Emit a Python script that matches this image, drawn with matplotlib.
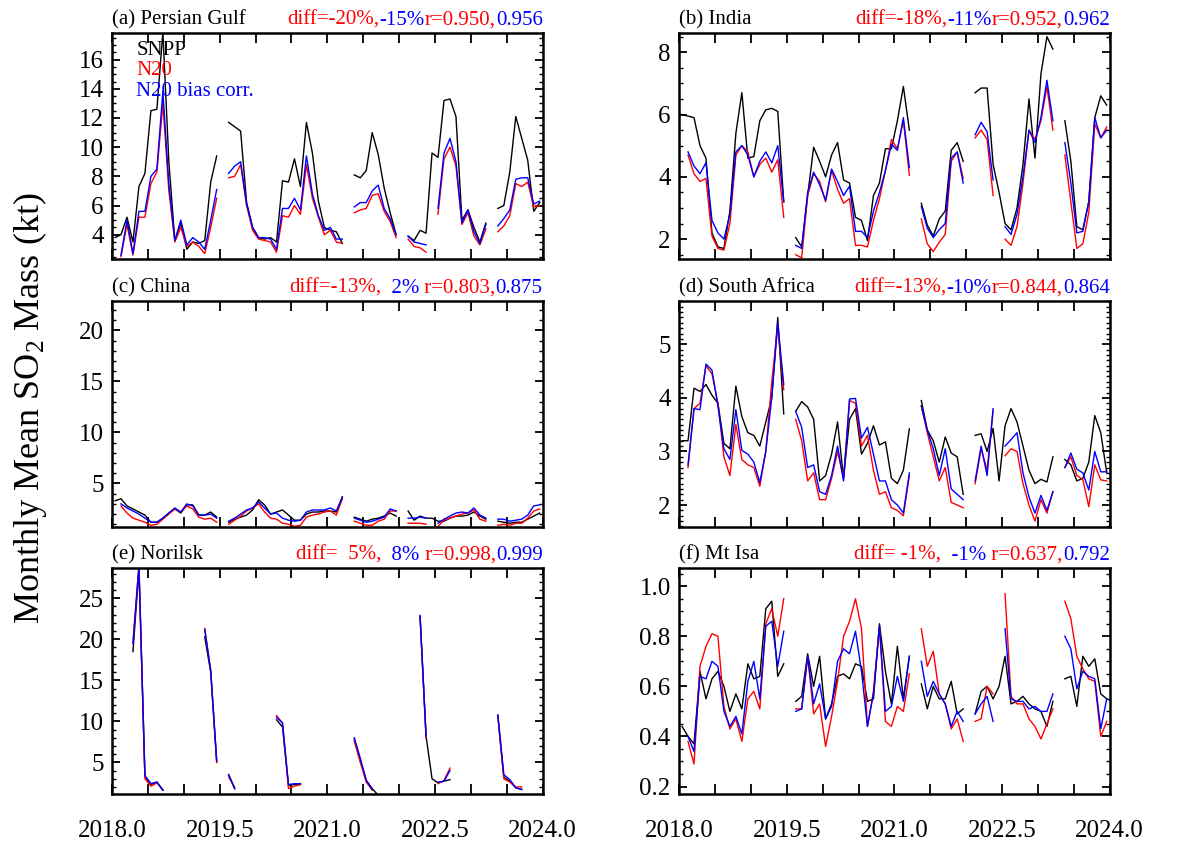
import matplotlib
matplotlib.use('Agg')
import matplotlib.pyplot as plt
import numpy as np
from matplotlib.ticker import MultipleLocator, FixedLocator, NullFormatter
from matplotlib.font_manager import FontProperties
from matplotlib.transforms import offset_copy

nan = np.nan

# monthly means Jan 2018 .. Dec 2023 (one row per year)
years = ['2018.0', '2019.5', '2021.0', '2022.5', '2024.0']
year_ticks = [2018.0, 2019.5, 2021.0, 2022.5, 2024.0]

# (a) Persian Gulf
gulf_snpp = [3.8, 4.0, 5.2, 3.5, 7.3, 8.2, 12.5, 12.6, 17.9, 9.0, 3.6, 4.8,
             3.0, 3.5, 3.4, 3.6, 7.6, 9.4, nan, 11.7, 11.4, 11.1, 6.2, 4.5,
             3.8, 3.7, 3.8, 3.5, 7.7, 7.6, 9.2, 7.3, 11.7, 9.6, 6.3, 4.5,
             4.3, 4.2, 3.4, nan, 8.1, 7.9, 8.4, 11.0, 9.5, 7.2, 5.5, 4.0,
             nan, 3.9, 3.6, 4.3, 4.1, 9.6, 9.3, 13.2, 13.3, 12.1, 5.0, 5.7,
             4.5, 3.5, 4.8, nan, 5.8, 6.0, 8.3, 12.1, 10.6, 9.1, 5.6, 6.2]
gulf_n20 = [nan, 2.5, 4.7, 2.6, 5.2, 5.2, 7.5, 8.3, 13.0, 7.0, 3.5, 4.5,
            3.2, 3.5, 3.2, 2.7, 4.5, 6.5, nan, 7.9, 8.0, 8.8, 6.0, 4.3,
            3.7, 3.6, 3.5, 2.8, 5.3, 5.2, 6.0, 5.4, 8.8, 6.5, 5.2, 4.0,
            4.3, 3.5, 3.4, nan, 5.5, 5.7, 5.8, 6.7, 6.8, 5.6, 4.9, 3.8,
            nan, 3.7, 3.2, 3.1, 2.8, nan, 5.4, 9.2, 10.0, 8.7, 4.7, 5.5,
            3.9, 3.3, 4.4, nan, 4.2, 4.6, 5.3, 7.5, 7.3, 7.6, 5.9, 6.0]
gulf_corr = [nan, 2.6, 5.0, 2.7, 5.6, 5.6, 8.0, 8.5, 13.8, 7.5, 3.6, 5.0,
             3.3, 3.8, 3.5, 3.0, 5.0, 7.1, nan, 8.2, 8.7, 9.0, 6.1, 4.5,
             3.8, 3.8, 3.7, 3.0, 5.8, 5.8, 6.5, 5.7, 9.4, 6.8, 5.3, 4.3,
             4.5, 3.7, 3.7, nan, 5.9, 6.2, 6.2, 7.0, 7.4, 5.8, 5.1, 4.0,
             nan, 3.9, 3.5, 3.4, 3.3, nan, 5.8, 9.6, 10.6, 9.0, 4.8, 5.7,
             4.2, 3.4, 4.7, nan, 4.6, 5.1, 5.7, 7.8, 7.9, 7.9, 6.1, 6.3]

# (b) India
india_snpp = [6.0, 5.95, 5.9, 5.0, 4.6, 2.2, 1.75, 1.7, 2.9, 5.4, 6.7, 4.6,
              4.65, 5.8, 6.15, 6.2, 6.1, 3.2, nan, 2.05, 1.75, 3.4, 4.95, 4.5,
              4.0, 4.7, 5.1, 3.9, 3.8, 2.7, 2.6, 1.95, 3.4, 3.8, 4.9, 4.9,
              5.8, 6.9, 5.5, nan, 3.15, 2.45, 2.1, 2.65, 2.9, 4.85, 5.1, 4.5,
              nan, 6.7, 6.85, 6.85, 4.4, 3.5, 2.5, 2.3, 3.0, 4.4, 6.5, 4.6,
              7.3, 8.5, 8.1, nan, 5.8, 4.5, 2.4, 2.3, 3.2, 5.9, 6.6, 6.3]
india_n20 = [nan, 4.7, 4.1, 3.85, 3.95, 2.1, 1.7, 1.65, 2.5, 4.7, 5.0, 4.8,
             4.0, 4.4, 4.6, 4.15, 4.55, 2.7, nan, 1.5, 1.4, 3.4, 4.1, 3.85,
             3.2, 4.2, 3.6, 3.15, 3.3, 1.8, 1.8, 1.75, 2.6, 3.3, 4.2, 5.2,
             4.9, 5.8, 4.05, nan, 2.65, 1.85, 1.6, 1.9, 2.15, 4.5, 4.8, 3.95,
             nan, 5.25, 5.5, 5.2, 3.4, nan, 2.0, 1.8, 2.4, 3.8, 5.5, 5.2,
             5.8, 6.9, 5.5, nan, 4.7, 3.2, 1.7, 1.85, 2.85, 5.7, 5.25, 5.6]
india_corr = [nan, 4.8, 4.35, 4.1, 4.45, 2.6, 2.2, 2.0, 2.8, 4.8, 5.0, 4.7,
              4.0, 4.5, 4.8, 4.45, 5.0, 3.2, nan, 1.8, 1.7, 3.5, 4.15, 3.75,
              3.25, 4.25, 3.85, 3.4, 3.7, 2.25, 2.25, 2.05, 2.9, 3.5, 4.2, 5.05,
              4.85, 5.9, 4.3, nan, 3.05, 2.35, 2.05, 2.3, 2.5, 4.6, 4.8, 3.8,
              nan, 5.35, 5.75, 5.45, 3.9, nan, 2.4, 2.15, 2.8, 4.0, 5.5, 5.1,
              5.9, 7.1, 5.8, nan, 5.1, 3.8, 2.2, 2.25, 3.2, 5.9, 5.25, 5.5]

# (c) China
china_snpp = [3.3, 3.5, 2.8, 2.5, 2.2, 1.9, 1.2, 1.2, 1.6, 2.1, 2.5, 2.1,
              2.9, 2.9, 1.9, 1.9, 2.2, 1.7, nan, 1.2, 1.5, 1.7, 1.9, 2.4,
              3.4, 2.9, 2.0, 2.2, 2.4, 1.9, 1.4, 1.4, 2.0, 2.2, 2.2, 2.3,
              2.3, 2.2, 3.7, nan, 1.7, 1.5, 1.3, 1.5, 1.6, 1.8, 2.1, 1.8,
              nan, 2.3, 1.4, 1.8, 1.6, 1.6, 1.3, 1.3, 1.6, 1.8, 1.8, 1.9,
              2.2, 1.8, 1.5, nan, 1.3, 1.2, 1.1, 1.2, 1.2, 1.5, 1.8, 2.1]
china_n20 = [nan, 2.8, 2.1, 1.6, 1.4, 1.2, 0.9, 1.0, 1.5, 2.0, 2.5, 2.2,
             2.8, 2.5, 1.7, 1.5, 1.6, 1.2, nan, 1.0, 1.4, 1.8, 2.3, 2.6,
             3.0, 2.2, 1.6, 1.5, 1.1, 1.0, 0.8, 0.9, 1.7, 1.9, 2.0, 2.2,
             2.3, 1.9, 3.5, nan, 1.3, 1.1, 0.9, 0.9, 1.3, 1.5, 2.3, 2.3,
             nan, 1.1, 1.1, 1.1, 1.0, nan, 0.8, 1.4, 1.6, 1.8, 2.0, 2.1,
             2.4, 1.5, 1.3, nan, 0.9, 1.0, 0.9, 1.1, 1.1, 1.6, 2.3, 2.5]
china_corr = [nan, 3.0, 2.6, 2.3, 2.0, 1.6, 1.2, 1.2, 1.6, 2.1, 2.6, 2.2,
              3.0, 2.8, 1.9, 1.9, 2.0, 1.6, nan, 1.3, 1.6, 2.0, 2.4, 2.6,
              3.2, 2.6, 2.0, 2.1, 1.6, 1.4, 1.3, 1.4, 2.2, 2.4, 2.4, 2.4,
              2.6, 2.3, 3.6, nan, 1.6, 1.4, 1.2, 1.3, 1.5, 1.7, 2.5, 2.3,
              nan, 1.6, 1.6, 1.7, 1.6, nan, 1.1, 1.5, 1.8, 2.1, 2.2, 2.1,
              2.6, 1.9, 1.6, nan, 1.5, 1.5, 1.3, 1.4, 1.5, 1.9, 2.8, 2.9]

# (d) South Africa
safrica_snpp = [3.2, 3.2, 4.18, 4.12, 4.25, 4.05, 3.9, 3.15, 3.05, 4.22, 3.65, 3.35,
                3.3, 3.1, 3.55, 4.0, 5.5, 3.7, nan, 3.75, 3.93, 3.83, 3.6, 2.45,
                2.55, 2.95, 3.55, 2.5, 3.6, 3.8, 2.95, 3.15, 3.48, 3.12, 3.18, 2.5,
                2.4, 2.65, 3.42, nan, 3.95, 3.4, 3.2, 2.8, 3.27, 2.97, 2.9, 2.2,
                nan, 3.3, 3.33, 3.0, 3.43, 2.45, 3.48, 3.8, 3.55, 3.1, 2.65, 2.4,
                2.48, 2.43, 2.9, nan, 2.85, 2.75, 2.45, 2.5, 2.8, 3.67, 3.35, 2.6]
safrica_n20 = [nan, 2.7, 3.8, 3.9, 4.6, 4.45, 3.9, 2.9, 2.55, 3.5, 2.85, 2.75,
               2.7, 2.35, 3.0, 4.3, 5.35, 4.15, nan, 3.6, 3.2, 2.45, 2.6, 2.1,
               2.1, 2.5, 3.0, 2.5, 3.95, 3.9, 3.1, 3.3, 2.65, 2.2, 2.25, 1.95,
               1.9, 1.8, 2.55, nan, 3.85, 3.35, 2.9, 2.45, 2.7, 2.05, 2.0, 1.95,
               nan, 2.4, 3.05, 2.65, 3.75, nan, 2.92, 3.05, 3.0, 2.4, 2.0, 1.7,
               2.1, 1.85, 2.25, nan, 2.7, 2.9, 2.55, 2.48, 1.97, 2.75, 2.47, 2.45]
safrica_corr = [nan, 2.75, 3.8, 3.78, 4.63, 4.52, 3.85, 3.05, 2.85, 3.78, 3.02, 2.95,
                2.8, 2.42, 3.0, 4.0, 5.4, 4.25, nan, 3.75, 3.45, 2.7, 2.75, 2.25,
                2.2, 2.55, 3.1, 2.45, 3.98, 3.99, 3.25, 3.45, 2.95, 2.45, 2.45, 2.1,
                2.0, 1.85, 2.6, nan, 3.85, 3.4, 3.05, 2.55, 3.05, 2.3, 2.2, 2.1,
                nan, 2.45, 3.1, 2.55, 3.8, nan, 3.1, 3.22, 3.35, 2.6, 2.15, 1.85,
                2.18, 1.9, 2.25, nan, 2.7, 2.97, 2.67, 2.6, 2.28, 3.0, 2.62, 2.62]

# (e) Norilsk (no winter data)
norilsk_snpp = [nan, nan, nan, 18.5, 28.5, 3.3, 2.3, 2.6, 1.6, nan, nan, nan,
                nan, nan, nan, 20.3, 16.0, 5.0, nan, 3.5, 1.8, nan, nan, nan,
                nan, nan, nan, 10.2, 9.3, 2.2, 2.3, 2.3, nan, nan, nan, nan,
                nan, nan, nan, nan, 7.8, 5.3, 2.8, 1.8, 1.0, nan, nan, nan,
                nan, nan, nan, 22.8, 8.2, 3.0, 2.5, 2.7, 2.9, nan, nan, nan,
                nan, nan, nan, nan, 10.7, 3.2, 2.7, 1.9, 1.7, nan, nan, nan]
norilsk_n20 = [nan, nan, nan, 19.5, 29.0, 3.0, 2.1, 2.5, 1.7, nan, nan, nan,
               nan, nan, nan, 21.3, 16.2, 5.0, nan, 3.2, 2.0, nan, nan, nan,
               nan, nan, nan, 10.7, 9.8, 1.8, 2.1, 2.3, nan, nan, nan, nan,
               nan, nan, nan, nan, 7.6, 5.0, 2.6, 1.6, nan, nan, nan, nan,
               nan, nan, nan, 22.8, 8.0, nan, 2.4, 2.8, 4.3, nan, nan, nan,
               nan, nan, nan, nan, 10.6, 3.0, 2.6, 2.0, 2.0, nan, nan, nan]
norilsk_corr = [nan, nan, nan, 19.5, 29.0, 3.4, 2.4, 2.6, 1.6, nan, nan, nan,
                nan, nan, nan, 21.2, 16.2, 5.2, nan, 3.5, 1.8, nan, nan, nan,
                nan, nan, nan, 10.5, 9.8, 2.3, 2.4, 2.4, nan, nan, nan, nan,
                nan, nan, nan, nan, 8.0, 5.5, 2.8, 1.7, nan, nan, nan, nan,
                nan, nan, nan, 22.9, 8.2, nan, 2.6, 2.7, 4.0, nan, nan, nan,
                nan, nan, nan, nan, 10.8, 3.5, 2.9, 1.9, 1.7, nan, nan, nan]

# (f) Mt Isa
mtisa_snpp = [0.44, 0.40, 0.37, 0.66, 0.55, 0.63, 0.66, 0.60, 0.50, 0.57, 0.51, 0.69,
              0.63, 0.64, 0.91, 0.94, 0.64, 0.69, nan, 0.54, 0.56, 0.73, 0.60, 0.72,
              0.47, 0.53, 0.64, 0.65, 0.63, 0.69, 0.68, 0.54, 0.55, 0.85, 0.66, 0.53,
              0.76, 0.55, 0.72, nan, 0.61, 0.51, 0.60, 0.55, 0.55, 0.62, 0.49, 0.51,
              nan, 0.49, 0.58, 0.60, 0.55, 0.60, 0.72, 0.53, 0.54, 0.56, 0.53, 0.51,
              0.50, 0.44, 0.54, nan, 0.63, 0.64, 0.52, 0.72, 0.68, 0.71, 0.57, 0.55]
mtisa_n20 = [nan, 0.38, 0.29, 0.68, 0.76, 0.81, 0.80, 0.52, 0.43, 0.47, 0.38, 0.55,
             0.58, 0.51, 0.85, 0.91, 0.80, 0.95, nan, 0.51, 0.51, 0.72, 0.49, 0.53,
             0.36, 0.48, 0.62, 0.80, 0.86, 0.95, 0.83, 0.44, 0.58, 0.84, 0.46, 0.44,
             0.52, 0.50, 0.65, nan, 0.83, 0.68, 0.74, 0.57, 0.53, 0.43, 0.47, 0.38,
             nan, 0.46, 0.47, 0.60, 0.57, nan, 0.97, 0.56, 0.53, 0.53, 0.47, 0.44,
             0.39, 0.45, 0.51, nan, 0.94, 0.87, 0.72, 0.67, 0.63, 0.62, 0.40, 0.46]
mtisa_corr = [nan, 0.40, 0.34, 0.64, 0.63, 0.70, 0.68, 0.50, 0.44, 0.48, 0.41, 0.62,
              0.70, 0.55, 0.84, 0.86, 0.68, 0.82, nan, 0.50, 0.51, 0.72, 0.53, 0.61,
              0.47, 0.52, 0.70, 0.75, 0.73, 0.82, 0.66, 0.44, 0.57, 0.84, 0.50, 0.52,
              0.64, 0.54, 0.72, nan, 0.70, 0.56, 0.62, 0.57, 0.53, 0.44, 0.50, 0.46,
              nan, 0.49, 0.53, 0.56, 0.46, nan, 0.83, 0.55, 0.54, 0.54, 0.51, 0.52,
              0.50, 0.50, 0.57, nan, 0.80, 0.75, 0.59, 0.66, 0.64, 0.63, 0.43, 0.55]

# statistics text: diff N20, diff corrected, r N20, r corrected
gulf_stats = ['diff=-20%,', '-15%', 'r=0.950,', '0.956']
india_stats = ['diff=-18%,', '-11%', 'r=0.952,', '0.962']
china_stats = ['diff=-13%,', '  2%', ' r=0.803,', '0.875']
safrica_stats = ['diff=-13%,', '-10%', 'r=0.844,', '0.864']
norilsk_stats = ['diff=  5%,', '  8%', ' r=0.998,', '0.999']
mtisa_stats = ['diff= -1%,', '  -1%', ' r=0.637,', '0.792']

plt.rcParams['font.family'] = 'Liberation Serif'
plt.rcParams['mathtext.fontset'] = 'custom'
plt.rcParams['mathtext.rm'] = 'Liberation Serif'
plt.rcParams['mathtext.it'] = 'Liberation Serif:italic'

time = 2018 + (np.arange(72) + 0.5) / 12.0

fig = plt.figure(figsize=(11.93, 8.55), dpi=100)

left_x, right_x = 0.0939, 0.5692
rows = [0.697, 0.3836, 0.0713]
w, h = 0.3610, 0.2645

panels = [
    ('(a) Persian Gulf', gulf_snpp, gulf_n20, gulf_corr, gulf_stats, (2.33, 17.83), 2, 0.5),
    ('(b) India', india_snpp, india_n20, india_corr, india_stats, (1.36, 8.62), 2, 0.5),
    ('(c) China', china_snpp, china_n20, china_corr, china_stats, (0.73, 22.9), 5, 1),
    ('(d) South Africa', safrica_snpp, safrica_n20, safrica_corr, safrica_stats, (1.59, 5.81), 1, 0.1),
    ('(e) Norilsk', norilsk_snpp, norilsk_n20, norilsk_corr, norilsk_stats, (1.14, 28.7), 5, 1),
    ('(f) Mt Isa', mtisa_snpp, mtisa_n20, mtisa_corr, mtisa_stats, (0.17, 1.073), 0.2, 0.05),
]

renderer = fig.canvas.get_renderer()
fp = FontProperties(family='Liberation Serif', size=15)
stat_colors = ['red', 'blue', 'red', 'blue']

for k, (title, snpp, n20, corr, stats, ylim, major, minor) in enumerate(panels):
    row, col = k // 2, k % 2
    ax = fig.add_axes([left_x if col == 0 else right_x, rows[row], w, h])
    ax.plot(time, snpp, color='black', lw=1.0)
    ax.plot(time, n20, color='red', lw=1.0)
    ax.plot(time, corr, color='blue', lw=1.0)
    ax.set_xlim(2018.0, 2024.0)
    ax.set_ylim(*ylim)

    ax.xaxis.set_major_locator(FixedLocator(year_ticks))
    ax.xaxis.set_minor_locator(MultipleLocator(0.5))
    if row == 2:
        ax.set_xticklabels(years)
    else:
        ax.xaxis.set_major_formatter(NullFormatter())
    ax.yaxis.set_major_locator(MultipleLocator(major))
    ax.yaxis.set_minor_locator(MultipleLocator(minor))
    if major < 1:
        ax.yaxis.set_major_formatter(plt.FormatStrFormatter('%.1f'))

    ax.tick_params(which='both', direction='in', top=True, right=True)
    ax.tick_params(axis='y', which='major', length=6, width=1.3, labelsize=18, pad=6)
    ax.tick_params(axis='y', which='minor', length=3, width=1.0)
    ax.tick_params(axis='x', which='both', length=7, width=1.3, labelsize=18, pad=19)
    for s in ax.spines.values():
        s.set_linewidth(1.8)

    # panel title and coloured statistics, same baseline
    trans = offset_copy(ax.transAxes, fig=fig, y=6, units='points')
    ax.text(0.0, 1.0, title, transform=trans, fontsize=15, va='baseline', ha='left')
    for j in range(len(stats)):
        suffix = ''.join(stats[j:])
        tw, th, td = renderer.get_text_width_height_descent(suffix, fp, ismath=False)
        xpos = 1.0 - tw / ax.bbox.width
        ax.text(xpos, 1.0, stats[j], transform=trans, fontproperties=fp,
                color=stat_colors[j], va='baseline', ha='left')

    if k == 0:
        ax.text(0.056, 0.903, 'SNPP', transform=ax.transAxes, fontsize=15, color='black')
        ax.text(0.056, 0.812, 'N20', transform=ax.transAxes, fontsize=15, color='red')
        ax.text(0.056, 0.721, 'N20 bias corr.', transform=ax.transAxes, fontsize=15, color='blue')

fig.text(0.025, 0.523, 'Monthly Mean SO$_2$ Mass (kt)', rotation=90,
         ha='center', va='center', fontsize=26)

plt.savefig('out.png', dpi=100)
plt.close()
